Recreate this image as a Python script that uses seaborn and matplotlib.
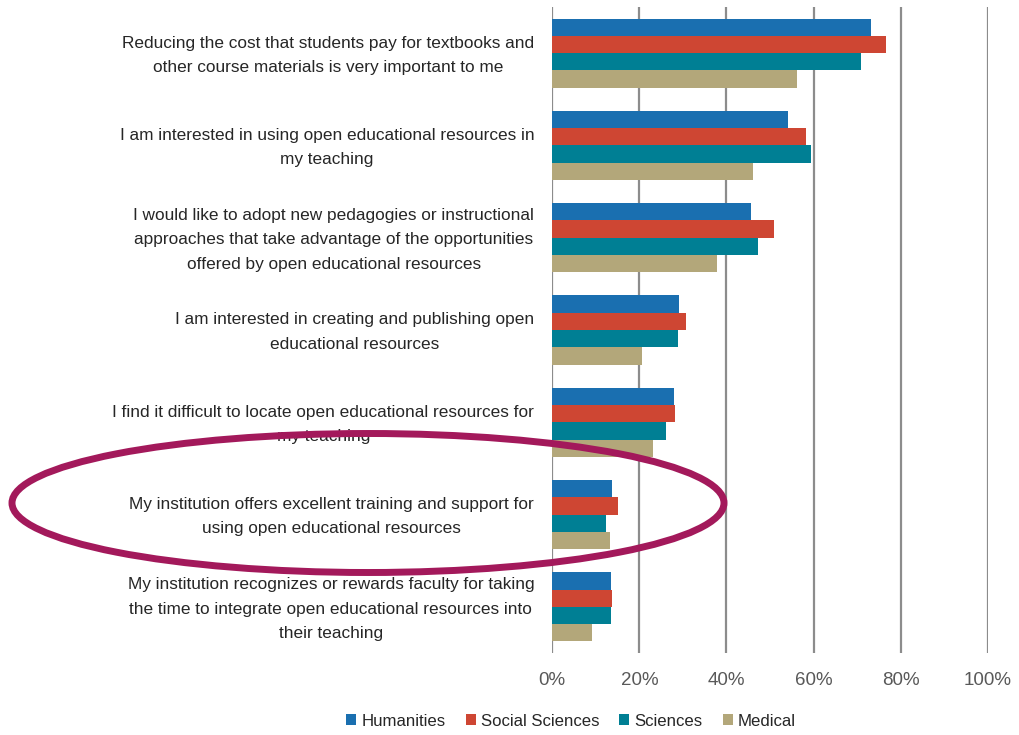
import matplotlib
matplotlib.use("Agg")
import matplotlib.pyplot as plt
import matplotlib.transforms as mtransforms
import seaborn as sns
import pandas as pd
from matplotlib.patches import Ellipse, Patch

categories = [
    "Reducing the cost that students pay for textbooks and\nother course materials is very important to me",
    "I am interested in using open educational resources in\nmy teaching",
    "I would like to adopt new pedagogies or instructional\napproaches that take advantage of the opportunities\noffered by open educational resources",
    "I am interested in creating and publishing open\neducational resources",
    "I find it difficult to locate open educational resources for\nmy teaching",
    "My institution offers excellent training and support for\nusing open educational resources",
    "My institution recognizes or rewards faculty for taking\nthe time to integrate open educational resources into\ntheir teaching",
]
series = ["Humanities", "Social Sciences", "Sciences", "Medical"]
humanities = [73.1, 54.2, 45.7, 29.2, 27.9, 13.7, 13.5]
social_sciences = [76.7, 58.2, 50.9, 30.6, 28.2, 15.1, 13.8]
sciences = [71.0, 59.4, 47.2, 28.9, 26.2, 12.4, 13.5]
medical = [56.3, 46.0, 37.8, 20.5, 23.1, 13.3, 9.1]
xticks = [0, 20, 40, 60, 80, 100]
xtick_labels = ["0%", "20%", "40%", "60%", "80%", "100%"]

colors = ["#1A6FB0", "#CE4633", "#007F94", "#B3A77A"]

rows = []
for s, vals in zip(series, [humanities, social_sciences, sciences, medical]):
    for c, v in zip(categories, vals):
        rows.append({"category": c, "series": s, "value": v})
df = pd.DataFrame(rows)

sns.set_style("white")
plt.rcParams['font.family'] = ['Liberation Sans', 'DejaVu Sans']

fig = plt.figure(figsize=(10.19, 7.35), dpi=100)
ax = fig.add_axes([0.542, 0.1116, 0.9693 - 0.542, 0.9905 - 0.1116])

sns.barplot(data=df, x="value", y="category", hue="series", order=categories,
            hue_order=series, palette=colors, orient="h", width=0.75,
            saturation=1, ax=ax, legend=False, linewidth=0)

ax.set_xlim(0, 100)
ax.set_ylim(6.5, -0.5)
ax.set_xticks(xticks)
ax.set_xticklabels(xtick_labels, color="#595959", fontsize=13.5)
ax.xaxis.grid(True, color="#8C8C8C", linewidth=1.6)
ax.set_axisbelow(True)
ax.tick_params(axis="x", length=0, pad=14)
ax.tick_params(axis="y", length=0, pad=13)
offset = mtransforms.ScaledTranslation(0, 4 / 100, fig.dpi_scale_trans)
for lab in ax.get_yticklabels():
    lab.set_multialignment("center")
    lab.set_fontsize(12.4)
    lab.set_linespacing(1.78)
    lab.set_color("#262626")
    lab.set_transform(lab.get_transform() + offset)
for sp in ax.spines.values():
    sp.set_visible(False)
ax.set_xlabel("")
ax.set_ylabel("")

handles = [Patch(facecolor=c, edgecolor="none") for c in colors]
fig.legend(handles, series, loc="center", bbox_to_anchor=(571 / 1019, 1 - 721 / 735),
           ncol=4, frameon=False, fontsize=12.1, handlelength=0.6, handleheight=0.6,
           handletextpad=0.3, columnspacing=1.2, labelcolor="#262626")

ell = Ellipse((368 / 1019, 1 - 503 / 735), width=712 / 1019, height=139 / 735,
              transform=fig.transFigure, fill=False, edgecolor="#A3195B", linewidth=5,
              zorder=10)
fig.add_artist(ell)

fig.savefig("out.png", dpi=100)
